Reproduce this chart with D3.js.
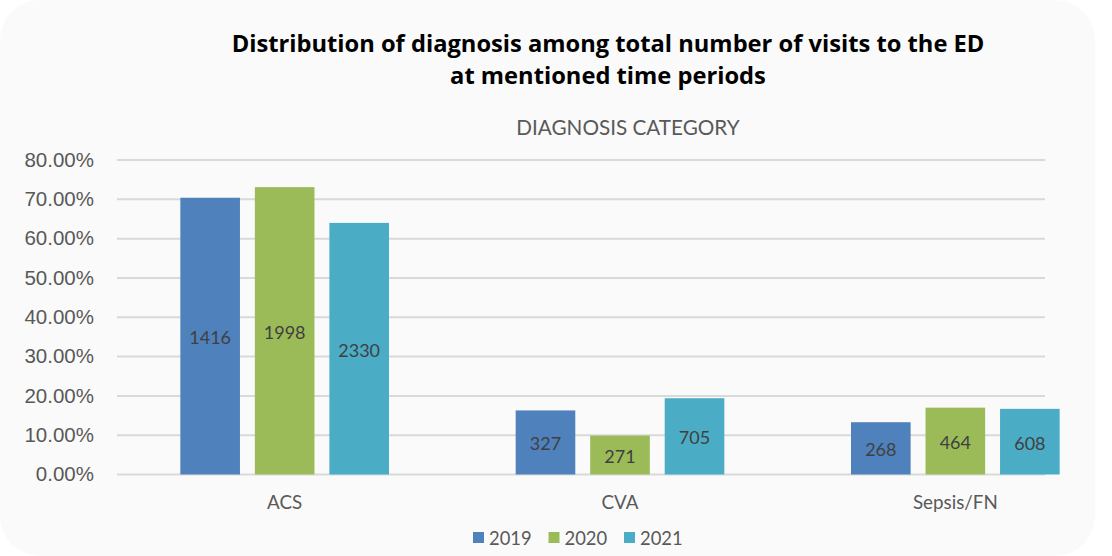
<!DOCTYPE html>
<html>
<head>
<meta charset="utf-8">
<script src="https://cdn.jsdelivr.net/npm/d3@7"></script>
<style>
  html, body { margin: 0; padding: 0; background: #ffffff; }
  svg { display: block; }
</style>
</head>
<body>
<svg id="chart" width="1112" height="556"></svg>
<script>
// ---- data ----
const categories = ["ACS", "CVA", "Sepsis/FN"];
const years = ["2019", "2020", "2021"];
const share2019 = [70.4, 16.3, 13.3];
const share2020 = [73.1, 9.9, 17.0];
const share2021 = [64.0, 19.4, 16.7];
const count2019 = [1416, 327, 268];
const count2020 = [1998, 271, 464];
const count2021 = [2330, 705, 608];
const yTicks = [0, 10, 20, 30, 40, 50, 60, 70, 80];
const titleLines = ["Distribution of diagnosis among total number of visits to the ED", "at mentioned time periods"];
const subtitle = "DIAGNOSIS CATEGORY";

const shares = [share2019, share2020, share2021];
const counts = [count2019, count2020, count2021];
const colors = ["#4f81bd", "#9bbb59", "#4bacc6"];

const svg = d3.select("#chart");
svg.append("rect").attr("x", 0).attr("y", 0).attr("width", 1095).attr("height", 556)
  .attr("rx", 40).attr("fill", "#fafafa");

const x0 = d3.scaleBand().domain(categories).range([117, 1123]);
const x1 = d3.scaleBand().domain(years).range([0, x0.bandwidth()]).paddingInner(0.2).paddingOuter(0.85);
const y = d3.scaleLinear().domain([0, 80]).range([474.5, 160]);

// gridlines
svg.append("g").selectAll("line").data(yTicks).join("line")
  .attr("x1", 117).attr("x2", 1045)
  .attr("y1", d => y(d)).attr("y2", d => y(d))
  .attr("stroke", "#d9d9d9").attr("stroke-width", 2);

// y axis labels
const yAxis = d3.axisLeft(y).tickValues(yTicks).tickFormat(d => d.toFixed(2) + "%").tickSize(0).tickPadding(0);
const ya = svg.append("g").attr("transform", "translate(94,0)").call(yAxis);
ya.select(".domain").remove();
ya.selectAll("text").attr("font-family", "Liberation Sans, Arial, sans-serif")
  .attr("font-size", 20.5).attr("fill", "#595959").attr("dy", "0.3em");

// bars
const rows = [];
categories.forEach((c, i) => years.forEach((yr, j) => rows.push({c, yr, v: shares[j][i], n: counts[j][i], j})));
const bars = svg.append("g");
bars.selectAll("rect").data(rows).join("rect")
  .attr("x", d => x0(d.c) + x1(d.yr))
  .attr("width", x1.bandwidth())
  .attr("y", d => y(d.v))
  .attr("height", d => y(0) - y(d.v))
  .attr("fill", d => colors[d.j]);
bars.selectAll("text").data(rows).join("text")
  .attr("x", d => x0(d.c) + x1(d.yr) + x1.bandwidth() / 2)
  .attr("y", d => (y(d.v) + y(0)) / 2 + 1)
  .attr("text-anchor", "middle").attr("dominant-baseline", "central")
  .attr("font-family", "Lato, sans-serif").attr("font-size", 18).attr("fill", "#404040")
  .text(d => d.n);

// x labels
const xAxis = d3.axisBottom(x0).tickSize(0).tickPadding(0);
const xa = svg.append("g").attr("transform", "translate(0,496)").call(xAxis);
xa.select(".domain").remove();
xa.selectAll("text").attr("font-family", "Lato, sans-serif").attr("font-size", 18.8).attr("fill", "#595959");

// title
svg.append("g").selectAll("text").data(titleLines).join("text")
  .attr("x", 608).attr("y", (d, i) => 52 + i * 32)
  .attr("text-anchor", "middle")
  .attr("font-family", "Open Sans, sans-serif").attr("font-weight", "bold").attr("font-size", 23.7)
  .attr("fill", "#000").text(d => d);

svg.append("text").attr("x", 628).attr("y", 135).attr("text-anchor", "middle")
  .attr("font-family", "Lato, sans-serif").attr("font-size", 20.7).attr("fill", "#595959")
  .text(subtitle);

// legend
const legendX = d3.scalePoint().domain(years).range([473, 624]);
const lg = svg.append("g").selectAll("g").data(years).join("g")
  .attr("transform", d => `translate(${legendX(d)},532)`);
lg.append("rect").attr("width", 11).attr("height", 11).attr("fill", (d, i) => colors[i]);
lg.append("text").attr("x", 16).attr("y", 6).attr("dominant-baseline", "central")
  .attr("font-family", "Lato, sans-serif").attr("font-size", 18.4).attr("fill", "#595959")
  .text(d => d);
</script>
</body>
</html>
